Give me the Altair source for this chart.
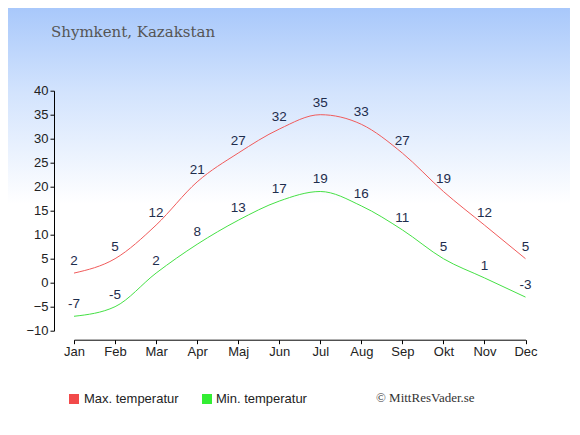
import altair as alt
import pandas as pd

months = ["Jan", "Feb", "Mar", "Apr", "Maj", "Jun", "Jul", "Aug", "Sep", "Okt", "Nov", "Dec"]
max_temp = [2, 5, 12, 21, 27, 32, 35, 33, 27, 19, 12, 5]
min_temp = [-7, -5, 2, 8, 13, 17, 19, 16, 11, 5, 1, -3]
series_names = ["Max. temperatur", "Min. temperatur"]
line_colors = ["#f05a5a", "#44e044"]
legend_colors = ["#f24a4a", "#33ee33"]
y_ticks = [-10, -5, 0, 5, 10, 15, 20, 25, 30, 35, 40]
title_text = "Shymkent, Kazakstan"
credit_text = "© MittResVader.se"

temps = max_temp + min_temp
df = pd.DataFrame({
    "month": months * 2,
    "temp": temps,
    "label": [str(v) for v in temps],
    "series": [series_names[0]] * len(months) + [series_names[1]] * len(months),
})

W, H = 451.5, 240
PL, PT, PR, PB = 66, 82.7, 44.5, 94
TOTAL_W = PL + W + PR
TOTAL_H = PT + H + PB

x_enc = alt.X(
    "month:O", sort=months,
    scale=alt.Scale(domain=months, padding=0),
    axis=alt.Axis(title=None, labelAngle=0, offset=9, grid=False, zindex=2),
)
y_enc = alt.Y(
    "temp:Q",
    scale=alt.Scale(domain=[-10, 40], nice=False, zero=False),
    axis=alt.Axis(title=None, values=y_ticks, offset=20, grid=False, zindex=2, format="d"),
)

bg = alt.Chart(pd.DataFrame({"a": [0]})).mark_rect(
    fill=alt.Gradient(
        gradient="linear",
        stops=[
            alt.GradientStop(color="#a8c8fb", offset=0),
            alt.GradientStop(color="#d2e3fd", offset=0.2),
            alt.GradientStop(color="#ffffff", offset=0.47),
            alt.GradientStop(color="#ffffff", offset=1),
        ],
        x1=0, x2=0, y1=0, y2=1,
    )
).encode(
    x=alt.value(-PL), x2=alt.value(TOTAL_W - PL),
    y=alt.value(-PT), y2=alt.value(TOTAL_H - PT),
)

lines = alt.Chart(df).mark_line(interpolate="monotone", strokeWidth=1).encode(
    x=x_enc, y=y_enc,
    color=alt.Color("series:N", scale=alt.Scale(domain=series_names, range=line_colors), legend=None),
    detail="series:N",
)

labels = alt.Chart(df).mark_text(
    dy=-8, baseline="alphabetic", align="center", fontSize=13.5,
    font="Liberation Sans", color="#1e2d4d",
).encode(x=x_enc, y=y_enc, text="label:N")

title = alt.Chart(pd.DataFrame({"t": [title_text]})).mark_text(
    align="left", baseline="alphabetic", font="DejaVu Serif", fontSize=15, color="#555555",
).encode(x=alt.value(-23), y=alt.value(-53.4), text="t:N")

credit = alt.Chart(pd.DataFrame({"t": [credit_text]})).mark_text(
    align="left", baseline="alphabetic", font="Liberation Serif", fontSize=13, color="#333333",
).encode(x=alt.value(302), y=alt.value(311), text="t:N")

legend_layers = []
sq_x = [0, 133]
tx_x = [10, 142]
for i, (name, col) in enumerate(zip(series_names, legend_colors)):
    d = pd.DataFrame({"label": [name]})
    legend_layers.append(
        alt.Chart(d).mark_square(size=100, color=col, opacity=1, filled=True).encode(
            x=alt.value(sq_x[i]), y=alt.value(308.3)
        )
    )
    legend_layers.append(
        alt.Chart(d).mark_text(
            align="left", baseline="alphabetic", font="Liberation Sans", fontSize=13, color="#222222",
        ).encode(x=alt.value(tx_x[i]), y=alt.value(312.6), text="label:N")
    )

chart = alt.layer(bg, lines, labels, title, credit, *legend_layers).properties(
    width=W, height=H,
    autosize=alt.AutoSizeParams(type="none"),
    padding={"left": PL, "top": PT, "right": PR, "bottom": PB},
).configure_view(stroke=None).configure_axis(
    domainColor="#000000", tickColor="#000000", labelColor="#222222",
    labelFont="Liberation Sans", labelFontSize=13, tickSize=4, labelPadding=2,
)

chart.save("out.html", embed_options={"renderer": "svg", "actions": False})
